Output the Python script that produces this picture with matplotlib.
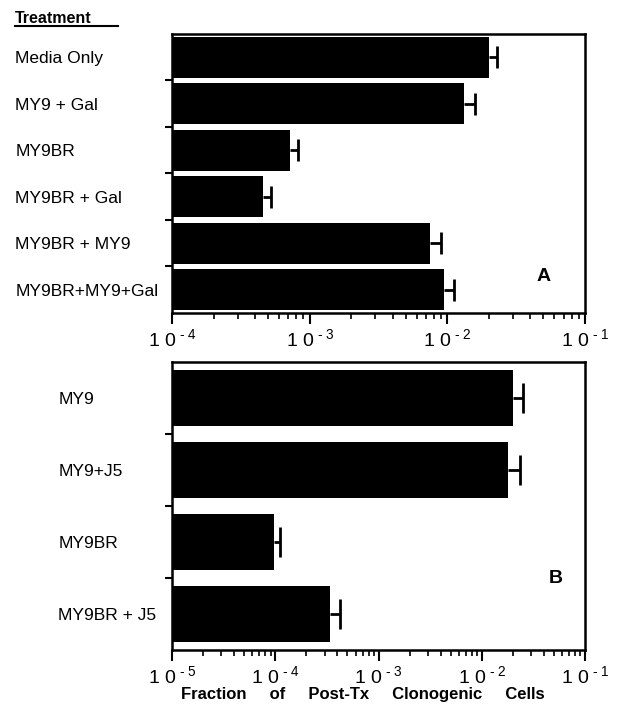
import matplotlib
matplotlib.use("Agg")
import matplotlib.pyplot as plt
import numpy as np
from matplotlib.ticker import LogLocator, FixedLocator, NullFormatter, FuncFormatter

plt.rcParams['font.family'] = ['Liberation Sans', 'DejaVu Sans']
plt.rcParams['mathtext.fontset'] = 'custom'
plt.rcParams['mathtext.rm'] = 'Liberation Sans'
plt.rcParams['mathtext.it'] = 'Liberation Sans'

# Panel A data
cats_a = ["Media Only", "MY9 + Gal", "MY9BR", "MY9BR + Gal", "MY9BR + MY9", "MY9BR+MY9+Gal"]
vals_a = [0.020, 0.0132, 7.2e-4, 4.6e-4, 7.5e-3, 9.4e-3]
errs_a = [0.003, 0.0026, 1.0e-4, 0.6e-4, 1.5e-3, 1.8e-3]

# Panel B data
cats_b = ["MY9", "MY9+J5", "MY9BR", "MY9BR + J5"]
vals_b = [0.020, 0.018, 9.6e-5, 3.4e-4]
errs_b = [0.005, 0.0054, 1.6e-5, 0.8e-4]

xlim_a = (1e-4, 1e-1)
xlim_b = (1e-5, 1e-1)

fig = plt.figure(figsize=(6.17, 7.05), dpi=100)
axA = fig.add_axes([0.279, 0.556, 0.669, 0.396])
axB = fig.add_axes([0.279, 0.078, 0.669, 0.4085])

def fmt(x, pos):
    e = int(round(np.log10(x)))
    return r"1 0$^{\text{ - }%d}$" % (-e)

def style(ax, cats, vals, errs, xlim, height, capsize, pad, panel, ppos):
    n = len(cats)
    y = np.arange(n)
    ax.barh(y, np.array(vals) - xlim[0], left=xlim[0], height=height, color='black')
    eb = ax.errorbar(vals, y, xerr=[np.zeros(n), errs], fmt='none', ecolor='black',
                     elinewidth=2, capsize=capsize, capthick=2)
    caps = eb[1]
    if len(caps) >= 1:
        caps[0].set_visible(False)
    ax.set_xscale('log')
    ax.set_xlim(*xlim)
    ax.set_ylim(n - 0.5, -0.5)
    ax.yaxis.set_major_locator(FixedLocator(list(y)))
    ax.set_yticklabels(cats, ha='left', fontsize=12.5)
    ax.yaxis.set_minor_locator(FixedLocator(list(np.arange(0.5, n - 0.5, 1.0))))
    ax.tick_params(axis='y', which='major', length=0, pad=pad)
    ax.tick_params(axis='y', which='minor', length=5, width=1.5, direction='out')
    ax.xaxis.set_major_locator(LogLocator(base=10, numticks=10))
    ax.xaxis.set_minor_locator(LogLocator(base=10, subs=np.arange(2, 10), numticks=10))
    ax.xaxis.set_minor_formatter(NullFormatter())
    ax.xaxis.set_major_formatter(FuncFormatter(fmt))
    ax.tick_params(axis='x', which='major', length=8, width=1.5, direction='out', labelsize=14, pad=3)
    ax.tick_params(axis='x', which='minor', length=4, width=1.2, direction='out')
    for s in ax.spines.values():
        s.set_linewidth(1.8)
    ax.text(ppos[0], ppos[1], panel, transform=ax.transAxes, fontsize=14,
            fontweight='bold', ha='center', va='center')

style(axA, cats_a, vals_a, errs_a, xlim_a, 0.88, 8, 113, "A", (0.90, 0.13))
style(axB, cats_b, vals_b, errs_b, xlim_b, 0.77, 11, 82, "B", (0.93, 0.25))

fig.text(0.024, 0.974, "Treatment", fontsize=11.5, fontweight='bold', ha='left', va='center')
fig.add_artist(plt.Line2D([0.024, 0.192], [0.963, 0.963], transform=fig.transFigure,
                          color='black', linewidth=1.5))

fig.text(0.588, 0.015, "Fraction     of     Post-Tx     Clonogenic     Cells", fontsize=12,
         fontweight='bold', ha='center', va='center')

fig.savefig("out.png", dpi=100)
